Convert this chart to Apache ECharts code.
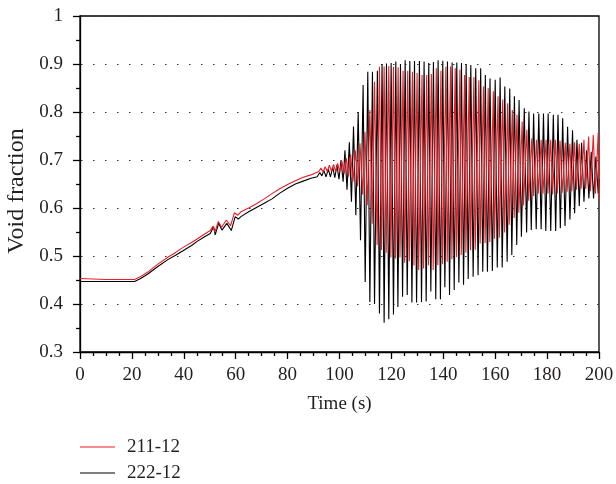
<!DOCTYPE html>
<html>
<head>
<meta charset="utf-8">
<script src="https://cdn.jsdelivr.net/npm/echarts@6/dist/echarts.min.js"></script>
<style>html,body{margin:0;padding:0;background:#fff;}#c{width:616px;height:484px;}</style>
</head>
<body>
<div id="c"></div>
<script>
// ---- data ----
var seriesNames = ['211-12', '222-12'];
var xTicks = [0, 20, 40, 60, 80, 100, 120, 140, 160, 180, 200];
var yTicks = [0.3, 0.4, 0.5, 0.6, 0.7, 0.8, 0.9, 1];

// 211-12 (red)
var t211 = [0, 5, 10, 15, 21, 23, 26, 30, 34, 37, 40, 43, 45, 48, 50.2, 51.2, 52.0, 53.3, 54.6, 56.4, 58.0, 59.5, 60.8, 62, 65, 68, 71, 74, 77, 80, 83, 86, 89,
  92.0, 92.9, 93.7, 94.5, 95.3, 96.1, 96.9, 97.7, 98.5, 99.3, 100.1, 100.9, 101.8, 102.6, 103.5, 104.3, 105.2, 106.1, 107.0, 107.9, 108.9, 109.8,
  110.7, 111.7, 112.6, 113.5, 114.5, 115.4, 116.2, 117.2, 118.0, 119.0, 119.8, 120.8, 121.6, 122.6, 123.3, 124.5, 125.1, 126.3, 126.9, 128.1, 128.7,
  129.9, 130.5, 131.8, 132.4, 133.6, 134.3, 135.4, 136.1, 137.3, 137.9, 139.1, 139.7, 141.0, 141.5, 142.8, 143.3, 144.6, 145.1, 146.4, 146.9,
  148.2, 148.7, 150.0, 150.5, 151.8, 152.3, 153.7, 154.2, 155.5, 156.1, 157.3, 157.9, 159.3, 159.7, 161.1, 161.6, 162.9, 163.6, 164.8, 165.4,
  166.6, 167.3, 168.4, 169.1, 170.4, 170.9, 172.2, 172.9, 174.1, 174.8, 175.9, 176.6, 177.7, 178.4, 179.6, 180.3, 181.4, 182.1, 183.2, 183.9,
  185.0, 185.8, 187.0, 187.7, 188.8, 189.5, 190.6, 191.3, 192.4, 193.1, 194.2, 194.9, 196.0, 196.7, 197.8, 198.6, 199.7, 200.0];
var v211 = [0.453, 0.452, 0.451, 0.451, 0.451, 0.456, 0.466, 0.483, 0.498, 0.508, 0.519, 0.528, 0.535, 0.546, 0.553, 0.562, 0.550, 0.572, 0.560, 0.575, 0.563, 0.590, 0.585, 0.592, 0.600, 0.609, 0.619, 0.630, 0.640, 0.649, 0.657, 0.664, 0.669,
  0.676, 0.683, 0.675, 0.686, 0.676, 0.689, 0.677, 0.691, 0.676, 0.693, 0.675, 0.698, 0.671, 0.704, 0.665, 0.712, 0.655, 0.720, 0.645, 0.735, 0.628, 0.759,
  0.606, 0.804, 0.567, 0.863, 0.523, 0.894, 0.5125, 0.895, 0.507, 0.896, 0.497, 0.894, 0.495, 0.893, 0.497, 0.886, 0.486, 0.886, 0.489, 0.884, 0.480,
  0.881, 0.471, 0.877, 0.474, 0.877, 0.481, 0.879, 0.471, 0.891, 0.481, 0.886, 0.483, 0.894, 0.488, 0.895, 0.493, 0.891, 0.498, 0.888, 0.502,
  0.877, 0.507, 0.873, 0.512, 0.873, 0.513, 0.866, 0.526, 0.853, 0.527, 0.850, 0.529, 0.843, 0.536, 0.833, 0.538, 0.826, 0.549, 0.818, 0.565,
  0.804, 0.579, 0.794, 0.590, 0.780, 0.605, 0.763, 0.615, 0.745, 0.625, 0.742, 0.630, 0.742, 0.630, 0.742, 0.630, 0.742, 0.628, 0.742, 0.630,
  0.740, 0.632, 0.736, 0.634, 0.734, 0.635, 0.737, 0.638, 0.734, 0.640, 0.742, 0.640, 0.749, 0.635, 0.752, 0.630, 0.757, 0.617];

// 222-12 (black)
var t222 = [0, 5, 10, 15, 21, 23, 26, 30, 34, 37, 40, 43, 45, 48, 50.2, 51.5, 52.1, 53.4, 54.7, 56.6, 58.3, 59.8, 61, 62, 65, 68, 71, 74, 77, 80, 83, 86, 89,
  91.4, 92.4, 93.2, 94.0, 94.8, 95.7, 96.5, 97.4, 98.2, 99.0, 99.8, 100.6, 101.4, 102.1, 102.9, 103.8, 104.6, 105.4, 106.3, 107.2, 108.1, 109.1, 109.9,
  110.9, 111.7, 112.7, 113.5, 114.6, 115.4, 116.4, 117.2, 118.1, 119.0, 119.9, 120.8, 121.7, 122.5, 123.5, 124.3, 125.3, 126.1, 127.1, 127.9,
  128.9, 129.7, 130.8, 131.6, 132.6, 133.4, 134.4, 135.2, 136.2, 137.1, 138.0, 138.9, 139.8, 140.6, 141.6, 142.4, 143.4, 144.2, 145.2, 146.0,
  147.0, 147.8, 148.8, 149.6, 150.6, 151.5, 152.5, 153.4, 154.4, 155.2, 156.2, 157.0, 158.0, 158.9, 160.0, 160.8, 161.9, 162.7, 163.7, 164.6,
  165.6, 166.4, 167.4, 168.3, 169.2, 170.1, 171.2, 172.1, 173.0, 173.9, 174.8, 175.8, 176.8, 177.7, 178.6, 179.5, 180.4, 181.4, 182.4, 183.3,
  184.2, 185.1, 186.0, 186.9, 187.9, 188.8, 189.8, 190.6, 191.5, 192.4, 193.3, 194.2, 195.2, 196.1, 197.0, 197.9, 198.8, 199.7, 200.0];
var v222 = [0.447, 0.447, 0.447, 0.447, 0.447, 0.452, 0.462, 0.478, 0.493, 0.502, 0.512, 0.522, 0.530, 0.540, 0.547, 0.561, 0.544, 0.568, 0.554, 0.568, 0.553, 0.582, 0.577, 0.582, 0.592, 0.601, 0.610, 0.619, 0.631, 0.641, 0.650, 0.656, 0.662,
  0.665, 0.674, 0.667, 0.678, 0.665, 0.681, 0.665, 0.685, 0.663, 0.690, 0.660, 0.700, 0.655, 0.720, 0.638, 0.737, 0.613, 0.770, 0.585, 0.800, 0.533, 0.856, 0.446,
  0.884, 0.404, 0.884, 0.400, 0.886, 0.380, 0.900, 0.361, 0.901, 0.368, 0.902, 0.378, 0.905, 0.394, 0.900, 0.415, 0.908, 0.419, 0.906, 0.403,
  0.906, 0.403, 0.906, 0.404, 0.905, 0.405, 0.902, 0.426, 0.904, 0.410, 0.908, 0.410, 0.907, 0.435, 0.905, 0.419, 0.903, 0.429, 0.903, 0.445,
  0.902, 0.440, 0.900, 0.452, 0.898, 0.457, 0.891, 0.460, 0.891, 0.467, 0.877, 0.467, 0.870, 0.469, 0.867, 0.476, 0.872, 0.476, 0.853, 0.488,
  0.849, 0.502, 0.833, 0.523, 0.825, 0.540, 0.808, 0.549, 0.801, 0.554, 0.797, 0.556, 0.797, 0.556, 0.797, 0.552, 0.797, 0.552, 0.794, 0.552,
  0.794, 0.558, 0.787, 0.5625, 0.769, 0.576, 0.762, 0.589, 0.742, 0.604, 0.736, 0.613, 0.720, 0.620, 0.717, 0.620, 0.707, 0.630, 0.660];

function pairs(t, v) { var out = []; for (var i = 0; i < t.length; i++) out.push([t[i], v[i]]); return out; }

var FONT = "'Liberation Serif', 'Times New Roman', serif";
var TXT = '#231f20';
var chart = echarts.init(document.getElementById('c'), null, { renderer: 'canvas' });
chart.setOption({
  animation: false,
  backgroundColor: '#ffffff',
  textStyle: { fontFamily: FONT },
  grid: { left: 80, right: 17, top: 16, bottom: 132, containLabel: false, outerBoundsMode: 'none',
          show: true, borderColor: '#000', borderWidth: 1.3, backgroundColor: 'transparent' },
  legend: {
    orient: 'vertical', left: 80, top: 437, padding: 0,
    data: seriesNames,
    icon: 'rect',
    itemWidth: 35, itemHeight: 1.2, itemGap: 6,
    textStyle: { fontFamily: FONT, fontSize: 19, lineHeight: 20, color: TXT, padding: [0, 0, 0, 7] }
  },
  xAxis: {
    type: 'value', min: xTicks[0], max: xTicks[xTicks.length - 1], interval: 20,
    name: 'Time (s)', nameLocation: 'middle', nameGap: 43,
    nameTextStyle: { fontFamily: FONT, fontSize: 19, color: TXT },
    axisLine: { show: true, onZero: false, lineStyle: { color: '#000', width: 1.3 } },
    axisTick: { show: true, inside: false, length: 7, lineStyle: { color: '#000', width: 1.3 } },
    minorTick: { show: true, splitNumber: 4, length: 4, lineStyle: { color: '#000', width: 1.3 } },
    axisLabel: { margin: 14, fontFamily: FONT, fontSize: 19, color: TXT },
    splitLine: { show: false }
  },
  yAxis: {
    type: 'value', min: yTicks[0], max: yTicks[yTicks.length - 1], interval: 0.1,
    name: 'Void fraction', nameLocation: 'middle', nameGap: 51,
    nameTextStyle: { fontFamily: FONT, fontSize: 24, color: TXT, padding: [0, 14, 0, 0] },
    axisLine: { show: true, onZero: false, lineStyle: { color: '#000', width: 1.3 } },
    axisTick: { show: true, inside: false, length: 7, lineStyle: { color: '#000', width: 1.3 } },
    minorTick: { show: true, splitNumber: 2, length: 4, lineStyle: { color: '#000', width: 1.3 } },
    axisLabel: {
      margin: 17, fontFamily: FONT, fontSize: 19, color: TXT,
      formatter: function (v) { var r = Math.round(v * 10) / 10; return r === 1 ? '1' : r.toFixed(1); }
    },
    splitLine: {
      show: true,
      lineStyle: { color: '#333', width: 1.2, type: [1.5, 10.5], dashOffset: 11 }
    }
  },
  series: [
    {
      name: seriesNames[1], type: 'line', data: pairs(t222, v222), z: 2,
      symbol: 'none', showSymbol: false,
      lineStyle: { color: '#000000', width: 1.1 }, itemStyle: { color: '#000000' }
    },
    {
      name: seriesNames[0], type: 'line', data: pairs(t211, v211), z: 3,
      symbol: 'none', showSymbol: false,
      lineStyle: { color: '#ee1c25', width: 1.1 }, itemStyle: { color: '#ee1c25' }
    }
  ]
});
</script>
</body>
</html>
